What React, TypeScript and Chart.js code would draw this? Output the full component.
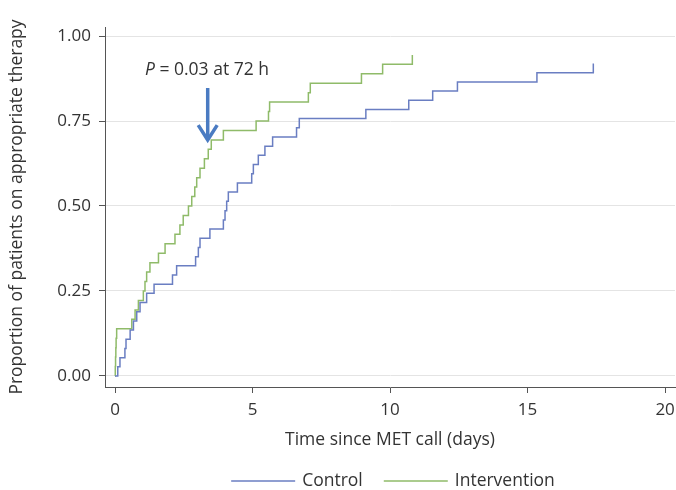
import React, { useEffect, useRef } from 'react';
import { Chart, registerables } from 'chart.js';

Chart.register(...registerables);

// Kaplan–Meier style cumulative proportions (days since MET call)
const controlTimes = [0, 0.10, 0.18, 0.36, 0.40, 0.55, 0.67, 0.79, 0.91, 1.15, 1.42, 2.09, 2.24, 2.93, 3.03, 3.09, 3.45, 3.94, 4.00, 4.06, 4.12, 4.45, 4.97, 5.03, 5.21, 5.45, 5.73, 6.60, 6.70, 9.12, 10.68, 11.55, 12.45, 15.34, 17.39];
const controlValues = [0, 0.027, 0.054, 0.081, 0.108, 0.135, 0.162, 0.189, 0.216, 0.243, 0.270, 0.297, 0.324, 0.351, 0.378, 0.405, 0.432, 0.459, 0.486, 0.514, 0.541, 0.568, 0.595, 0.622, 0.649, 0.676, 0.703, 0.730, 0.757, 0.784, 0.811, 0.838, 0.865, 0.892, 0.919];

const interventionTimes = [0, 0.01, 0.02, 0.03, 0.04, 0.06, 0.61, 0.73, 0.85, 1.03, 1.09, 1.15, 1.27, 1.58, 1.82, 2.18, 2.36, 2.48, 2.67, 2.79, 2.90, 2.97, 3.09, 3.25, 3.39, 3.50, 3.94, 5.13, 5.58, 5.62, 7.03, 7.10, 8.96, 9.73, 10.81];
const interventionValues = [0, 0.028, 0.056, 0.083, 0.111, 0.139, 0.167, 0.194, 0.222, 0.250, 0.278, 0.306, 0.333, 0.361, 0.389, 0.417, 0.444, 0.472, 0.500, 0.528, 0.556, 0.583, 0.611, 0.639, 0.667, 0.694, 0.722, 0.750, 0.778, 0.806, 0.833, 0.861, 0.889, 0.917, 0.944];

const seriesLabels = ['Control', 'Intervention'];
const xTicks = [0, 5, 10, 15, 20];
const yTicks = [0, 0.25, 0.5, 0.75, 1.0];
const xTitle = 'Time since MET call (days)';
const yTitle = 'Proportion of patients on appropriate therapy';
const noteItalic = 'P';
const noteRest = ' = 0.03 at 72 h';

const FONT = "'Open Sans', sans-serif";
const BLUE = '#6a7ec2';
const GREEN = '#8fbb69';
const ARROW = '#4a7bc2';
const TEXT = '#333333';
const AXIS = '#555555';
const TEXT_SIZE = 17.5;
const TICK_SIZE = 17;

export default function App() {
  const ref = useRef<HTMLCanvasElement>(null);

  useEffect(() => {
    const canvas = ref.current;
    if (!canvas) return;

    const overlay = {
      id: 'overlay',
      afterDraw(chart: any) {
        const ctx = chart.ctx;
        const xs = chart.scales.x;
        const ys = chart.scales.y;
        ctx.save();
        // annotation text
        ctx.fillStyle = TEXT;
        ctx.textBaseline = 'alphabetic';
        ctx.textAlign = 'left';
        const tx = xs.getPixelForValue(1.09);
        const ty = ys.getPixelForValue(0.885);
        ctx.font = `italic ${TEXT_SIZE}px ${FONT}`;
        ctx.fillText(noteItalic, tx, ty);
        const w = ctx.measureText(noteItalic).width;
        ctx.font = `${TEXT_SIZE}px ${FONT}`;
        ctx.fillText(noteRest, tx + w, ty);

        // arrow
        const ax = xs.getPixelForValue(3.37);
        const aTop = ys.getPixelForValue(0.847);
        const aTip = ys.getPixelForValue(0.694);
        const aArm = ys.getPixelForValue(0.738);
        ctx.strokeStyle = ARROW;
        ctx.lineWidth = 3.5;
        ctx.lineCap = 'butt';
        ctx.beginPath();
        ctx.moveTo(ax, aTop);
        ctx.lineTo(ax, aTip - 2);
        ctx.stroke();
        ctx.beginPath();
        ctx.lineJoin = 'miter';
        ctx.moveTo(ax - 9.5, aArm);
        ctx.lineTo(ax, aTip);
        ctx.lineTo(ax + 9.5, aArm);
        ctx.stroke();

        // legend
        ctx.font = `${TEXT_SIZE}px ${FONT}`;
        ctx.textBaseline = 'middle';
        const lineW = 64, gap = 7, itemGap = 21;
        const items = chart.data.datasets.map((ds: any) => ({ label: ds.label, color: ds.borderColor }));
        const widths = items.map((it: any) => lineW + gap + ctx.measureText(it.label).width);
        const total = widths.reduce((a: number, b: number) => a + b, 0) + itemGap * (items.length - 1);
        let x = (chart.chartArea.left + chart.chartArea.right) / 2 + 3 - total / 2;
        const y = 481;
        items.forEach((it: any, i: number) => {
          ctx.strokeStyle = it.color;
          ctx.lineWidth = 1.5;
          ctx.beginPath();
          ctx.moveTo(x, y);
          ctx.lineTo(x + lineW, y);
          ctx.stroke();
          ctx.fillStyle = TEXT;
          ctx.fillText(it.label, x + lineW + gap, y);
          x += widths[i] + itemGap;
        });
        ctx.restore();
      },
    };

    const chart = new Chart(canvas, {
      type: 'line',
      data: {
        datasets: [
          {
            label: seriesLabels[0],
            data: controlTimes.map((t, i) => ({ x: t, y: controlValues[i] })),
            borderColor: BLUE,
            backgroundColor: BLUE,
            borderWidth: 1.5,
            pointRadius: 0,
            stepped: 'before',
            fill: false,
          },
          {
            label: seriesLabels[1],
            data: interventionTimes.map((t, i) => ({ x: t, y: interventionValues[i] })),
            borderColor: GREEN,
            backgroundColor: GREEN,
            borderWidth: 1.5,
            pointRadius: 0,
            stepped: 'before',
            fill: false,
          },
        ],
      },
      options: {
        responsive: false,
        animation: false,
        layout: { padding: { top: 27, right: 1, left: 0, bottom: 0 } },
        plugins: { legend: { display: false }, tooltip: { enabled: false } },
        scales: {
          x: {
            type: 'linear',
            min: -0.364,
            max: 20.36,
            afterBuildTicks: (s: any) => { s.ticks = xTicks.map((v) => ({ value: v })); },
            afterFit: (s: any) => { s.height = 103; s.paddingLeft = 0; s.paddingRight = 0; },
            grid: { drawOnChartArea: false, drawTicks: true, tickLength: 6, tickColor: AXIS },
            border: { color: AXIS, width: 1 },
            ticks: { padding: 7, color: TEXT, font: { family: FONT, size: TICK_SIZE }, callback: (v: any) => String(v), maxRotation: 0 },
            title: { display: true, text: xTitle, color: TEXT, font: { family: FONT, size: TEXT_SIZE }, padding: { top: 0, bottom: 39 } },
          },
          y: {
            type: 'linear',
            min: -0.0324,
            max: 1.0265,
            afterBuildTicks: (s: any) => { s.ticks = yTicks.map((v) => ({ value: v })); },
            afterFit: (s: any) => { s.width = 105; s.paddingTop = 0; s.paddingBottom = 0; },
            grid: { color: '#e4e4e4', lineWidth: 1, drawTicks: true, tickLength: 6, tickColor: AXIS },
            border: { color: AXIS, width: 1 },
            ticks: { padding: 8, color: TEXT, font: { family: FONT, size: TICK_SIZE }, callback: (v: any) => Number(v).toFixed(2) },
            title: { display: true, text: yTitle, color: TEXT, font: { family: FONT, size: TEXT_SIZE }, padding: { top: 7, bottom: 0 } },
          },
        },
      },
      plugins: [overlay],
    } as any);

    return () => chart.destroy();
  }, []);

  return (
    <div style={{ position: 'fixed', left: 0, top: 0, width: 676, height: 490, background: '#ffffff' }}>
      <canvas ref={ref} width={676} height={490} style={{ display: 'block', width: 676, height: 490 }} />
    </div>
  );
}
